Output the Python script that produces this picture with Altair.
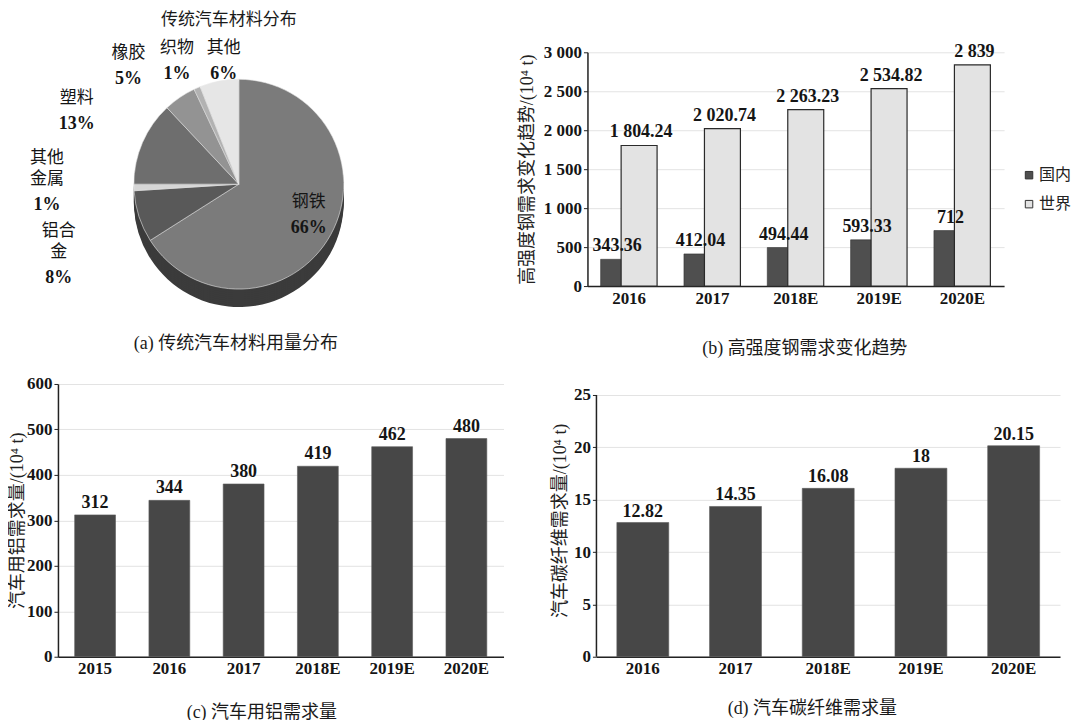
import math
import altair as alt
import pandas as pd

SERIF = "Liberation Serif"
CJK = "Noto Sans CJK SC"
MIX = "Liberation Serif, Noto Sans CJK SC"

# ---------------- data ----------------
# (a) material distribution of a conventional car
pie_names = ["钢铁", "铝合金", "其他金属", "塑料", "橡胶", "织物", "其他"]
pie_texts = ["钢铁", "铝合|金", "其他|金属", "塑料", "橡胶", "织物", "其他"]
pie_values = [66, 8, 1, 13, 5, 1, 6]

# (b) high-strength steel demand
b_years = ["2016", "2017", "2018E", "2019E", "2020E"]
b_series = ["国内", "世界"]
b_domestic = [343.36, 412.04, 494.44, 593.33, 712]
b_world = [1804.24, 2020.74, 2263.23, 2534.82, 2839]
b_ticks = [0, 500, 1000, 1500, 2000, 2500, 3000]

# (c) automotive aluminium demand
c_years = ["2015", "2016", "2017", "2018E", "2019E", "2020E"]
c_values = [312, 344, 380, 419, 462, 480]
c_ticks = [0, 100, 200, 300, 400, 500, 600]

# (d) automotive carbon fibre demand
d_years = ["2016", "2017", "2018E", "2019E", "2020E"]
d_values = [12.82, 14.35, 16.08, 18, 20.15]
d_ticks = [0, 5, 10, 15, 20, 25]

# ---------------- styles ----------------
PIE_COLORS = ["#7b7b7b", "#595959", "#d6d6d6", "#6e6e6e", "#939393", "#b2b2b2", "#e6e6e6"]
SIDE_COLOR = "#3b3b3b"
BAR_DARK = "#474747"
DOM_C = "#4f4f4f"
WORLD_C = "#e3e3e3"
TXT = "#151515"

XAX = dict(labelAngle=0, labelFont=SERIF, labelFontWeight="bold", labelFontSize=17,
           labelColor=TXT, labelPadding=4, ticks=False, domainColor="#222",
           domainWidth=1.5, grid=False)
YAX = dict(labelFont=SERIF, labelFontWeight="bold", labelFontSize=17, labelColor=TXT,
           labelPadding=2, tickSize=4, tickColor="#222", domainColor="#222",
           domainWidth=1.5, grid=True, gridColor="#e3e3e3", titleFont=MIX,
           titleFontSize=18, titleFontWeight="normal", titleColor="#222")


def caption(text, offset, dx=0):
    return alt.TitleParams(text, orient="bottom", font=MIX, fontSize=18,
                           fontWeight="normal", color="#1a1a1a", offset=offset, dx=dx)


# ---------------- (a) pie ----------------
pie_df = pd.DataFrame({
    "name": pie_names,
    "label": pie_texts,
    "value": pie_values,
    "idx": list(range(len(pie_names))),
    "pct": [f"{v}%" for v in pie_values],
})
PIE_R = 105
A_W, A_H = 362, 264
total = sum(pie_values)

arc_base = alt.Chart(pie_df).encode(
    theta=alt.Theta("value:Q", stack=True),
    order=alt.Order("idx:Q"),
)
side_layers = [
    arc_base.mark_arc(outerRadius=PIE_R, yOffset=k, color=SIDE_COLOR)
    for k in range(18, 0, -2)
]
top_layer = arc_base.mark_arc(outerRadius=PIE_R, stroke="#e8e8e8", strokeWidth=0.6).encode(
    color=alt.Color("name:N", scale=alt.Scale(domain=pie_names, range=PIE_COLORS), legend=None)
)

lab_base = alt.Chart(pie_df).transform_window(
    cum="sum(value)", sort=[alt.SortField("idx")]
).transform_calculate(mid="datum.cum - datum.value / 2")
theta_lab = alt.Theta("mid:Q", scale=alt.Scale(domain=[0, total], range=[0, 2 * math.pi]))

# label placement: (radius, dx, dy) of the split point between name and percentage
LABEL_POS = {
    "钢铁": (65, 13, 0),
    "铝合金": (118, -68, 44),
    "其他金属": (118, -74, 4),
    "塑料": (118, -54, -26),
    "橡胶": (118, -44, -21),
    "织物": (118, -15, -15),
    "其他": (118, 7, -7),
}
LH = 21
label_layers = []
for nm, (r, dx, dy) in LABEL_POS.items():
    n_lines = pie_texts[pie_names.index(nm)].count("|") + 1
    f = lab_base.transform_filter(alt.datum.name == nm)
    for i in range(n_lines):
        label_layers.append(
            f.transform_calculate(ln=f"split(datum.label, '|')[{i}]")
            .mark_text(radius=r, dx=dx, dy=dy - (n_lines - i) * LH, baseline="top",
                       font=CJK, fontSize=17, color=TXT)
            .encode(theta=theta_lab, text="ln:N")
        )
    label_layers.append(
        f.mark_text(radius=r, dx=dx, dy=dy + 4, baseline="top", font=SERIF,
                    fontWeight="bold", fontSize=18, color=TXT)
        .encode(theta=theta_lab, text="pct:N")
    )

text_df = pd.DataFrame({"t": ["传统汽车材料分布"], "c": ["(a) 传统汽车材料用量分布"]})
title_a = alt.Chart(text_df).mark_text(
    font=CJK, fontSize=17, color="#1a1a1a", baseline="middle"
).encode(x=alt.value(A_W / 2 - 10), y=alt.value(-32), text="t:N")
cap_a = alt.Chart(text_df).mark_text(
    font=MIX, fontSize=18, color="#1a1a1a", baseline="middle"
).encode(x=alt.value(A_W / 2 - 3), y=alt.value(292), text="c:N")

panel_a = alt.layer(*side_layers, top_layer, *label_layers, title_a, cap_a).resolve_scale(
    theta="independent"
).properties(width=A_W, height=A_H)

# ---------------- (b) grouped bars ----------------
df_b = pd.DataFrame({
    "year": b_years * 2,
    "series": [b_series[0]] * len(b_years) + [b_series[1]] * len(b_years),
    "value": b_domestic + b_world,
})
xb = alt.X("year:N", sort=b_years, title=None,
           scale=alt.Scale(paddingInner=0, paddingOuter=0), axis=alt.Axis(**XAX))
yb = alt.Y("value:Q", scale=alt.Scale(domain=[0, 3000], nice=False),
           axis=alt.Axis(values=b_ticks, format=",.0f", title="高强度钢需求变化趋势/(10⁴ t)",
                         titlePadding=7, **YAX))
cb = alt.Color("series:N", scale=alt.Scale(domain=b_series, range=[DOM_C, WORLD_C]),
               legend=alt.Legend(title=None, orient="none", legendX=434, legendY=115,
                                 symbolType="square", symbolSize=56,
                                 symbolStrokeColor="#333", symbolStrokeWidth=1,
                                 labelFont=CJK, labelFontSize=16, labelColor="#222",
                                 rowPadding=13, labelOffset=2, padding=0))
base_b = alt.Chart(df_b).encode(x=xb, y=yb)
is_dom = alt.datum.series == b_series[0]
is_world = alt.datum.series == b_series[1]
bar_dom = base_b.transform_filter(is_dom).mark_bar(
    width=21, xOffset=-18, stroke="#333", strokeWidth=0.6).encode(color=cb)
bar_world = base_b.transform_filter(is_world).mark_bar(
    width=36, xOffset=10, stroke="#2a2a2a", strokeWidth=1.2).encode(color=cb)
TEXT_STYLE = dict(baseline="bottom", font=SERIF, fontWeight="bold", fontSize=18, color=TXT)
txt_dom = base_b.transform_filter(is_dom).mark_text(dx=-12, dy=-4, **TEXT_STYLE).encode(
    text=alt.Text("value:Q", format=",.2~f"))
txt_world = base_b.transform_filter(is_world).mark_text(dx=12, dy=-4, **TEXT_STYLE).encode(
    text=alt.Text("value:Q", format=",.2~f"))
panel_b = alt.layer(bar_dom, bar_world, txt_dom, txt_world).properties(
    width=417, height=234, title=caption("(b) 高强度钢需求变化趋势", 34, 9))

# ---------------- (c) aluminium ----------------
df_c = pd.DataFrame({"year": c_years, "value": c_values})
base_c = alt.Chart(df_c).encode(
    x=alt.X("year:N", sort=c_years, title=None,
            scale=alt.Scale(paddingInner=0.45, paddingOuter=0.225), axis=alt.Axis(**XAX)),
    y=alt.Y("value:Q", scale=alt.Scale(domain=[0, 600], nice=False),
            axis=alt.Axis(values=c_ticks, title="汽车用铝需求量/(10⁴ t)", titlePadding=0, **YAX)),
)
panel_c = alt.layer(
    base_c.mark_bar(color=BAR_DARK, stroke="#5c5c5c", strokeWidth=0.6),
    base_c.mark_text(dy=-3, **TEXT_STYLE).encode(text=alt.Text("value:Q", format=",.2~f")),
).properties(width=446, height=273, title=caption("(c) 汽车用铝需求量", 27, -19))

# ---------------- (d) carbon fibre ----------------
df_d = pd.DataFrame({"year": d_years, "value": d_values})
D_TOP = d_ticks[-1] * 273 / 262
d_axis = dict(YAX)
d_axis["domain"] = False
base_d = alt.Chart(df_d).encode(
    x=alt.X("year:N", sort=d_years, title=None,
            scale=alt.Scale(paddingInner=0.44, paddingOuter=0.22), axis=alt.Axis(**XAX)),
    y=alt.Y("value:Q", scale=alt.Scale(domain=[0, D_TOP], nice=False),
            axis=alt.Axis(values=d_ticks, title="汽车碳纤维需求量/(10⁴ t)", titlePadding=4, **d_axis)),
)
d_axis_line = alt.Chart(pd.DataFrame({"lo": [d_ticks[0]]})).mark_rule(
    color="#222", strokeWidth=1.5).encode(
    x=alt.value(0), y=alt.datum(d_ticks[0]), y2=alt.datum(d_ticks[-1]))
panel_d = alt.layer(
    base_d.mark_bar(color=BAR_DARK, stroke="#5c5c5c", strokeWidth=0.6),
    base_d.mark_text(dy=-2, **TEXT_STYLE).encode(text=alt.Text("value:Q", format=",.2~f")),
    d_axis_line,
).properties(width=464, height=273, title=caption("(d) 汽车碳纤维需求量", 23, -16))

# ---------------- layout ----------------
row1 = alt.hconcat(panel_a, panel_b, spacing=98).resolve_scale(color="independent")
row2 = alt.hconcat(panel_c, panel_d, spacing=48).resolve_scale(color="independent")
chart = alt.vconcat(row1, row2, spacing=17).resolve_scale(color="independent").properties(
    padding={"left": 0, "top": 3, "right": 0, "bottom": 0}
).configure(
    locale={"number": {"decimal": ".", "thousands": " ", "grouping": [3], "currency": ["", ""]}}
).configure_view(strokeWidth=0)

chart.save("out.html", embed_options={"renderer": "svg", "actions": False})
